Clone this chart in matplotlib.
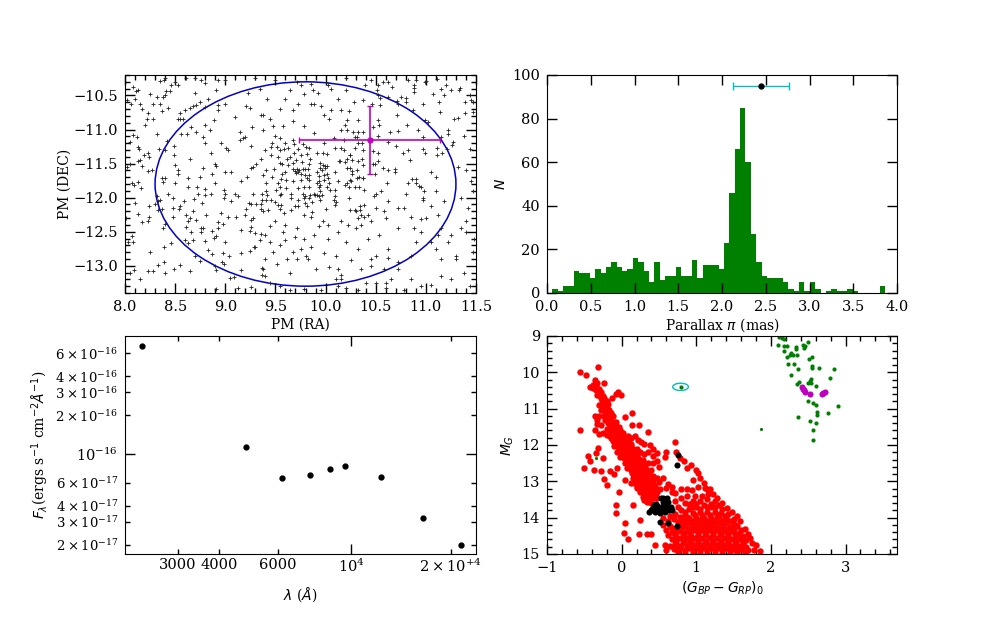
import matplotlib
matplotlib.use('Agg')
import matplotlib.pyplot as plt
from matplotlib.patches import Ellipse
from matplotlib.ticker import MultipleLocator

plt.rcParams['font.family'] = 'DejaVu Serif'
plt.rcParams['font.size'] = 10
plt.rcParams['mathtext.fontset'] = 'dejavusans'

pm_topleft = [
(8.40,-10.24),(8.35,-10.29),(8.39,-10.27),(8.50,-10.30),(8.61,-10.25),(8.70,-10.25),(8.76,-10.27),(8.80,-10.32),(8.93,-10.27),(8.08,-10.37),
(8.13,-10.42),(8.11,-10.44),(8.25,-10.48),(8.32,-10.53),(8.41,-10.44),(8.45,-10.44),(8.46,-10.35),(8.53,-10.35),(8.40,-10.49),(8.38,-10.53),
(8.70,-10.47),(8.83,-10.55),(8.91,-10.42),(9.0,-10.27),(9.23,-10.47),(8.02,-10.57),(8.10,-10.55),(8.06,-10.63),(8.15,-10.62),(8.17,-10.70),
(8.28,-10.62),(8.35,-10.62),(8.43,-10.69),(8.37,-10.73),(8.23,-10.76),(8.22,-10.84),(8.28,-10.85),(8.20,-10.93),(8.65,-10.69),(8.68,-10.65),
(8.71,-10.64),(8.75,-10.59),(8.60,-10.71),(8.55,-10.76),(8.55,-10.84),(8.58,-10.84),(8.53,-10.84),(8.80,-10.67),(8.93,-10.64),(8.93,-10.71),
(9.0,-10.63),(9.10,-10.81),(9.21,-10.65),(9.25,-10.69),(8.89,-10.86),(8.80,-10.94),(8.66,-10.96),(8.56,-11.06),(8.62,-11.06),(8.71,-11.03),
(8.85,-11.01),(8.32,-11.06),(8.08,-11.08),(8.12,-11.11),(8.78,-11.11),(8.80,-11.20),(8.05,-11.18),(8.13,-11.25),(8.14,-11.29),(8.42,-11.17),
(8.34,-11.28),(8.40,-11.30),(8.49,-11.24),(9.15,-11.03),(9.18,-11.13),(9.20,-11.11),(9.15,-11.16),(9.27,-10.96),(9.36,-10.79),(9.26,-11.24),
(8.96,-11.20),(9.01,-11.27),(9.03,-11.30),(8.23,-11.34),(8.19,-11.37),(8.24,-11.40),(8.15,-11.45),(8.13,-11.46),(8.17,-11.53),(8.05,-11.50),
(8.02,-11.55),(8.49,-11.37),(8.86,-11.34),(8.65,-11.43),(8.50,-11.52),(8.53,-11.60),(8.53,-11.65),(8.23,-11.61),(8.27,-11.60),(8.37,-11.71),
(8.40,-11.71),(8.38,-11.77),(8.90,-11.51),(8.91,-11.53),(8.78,-11.57),(8.87,-11.66),(8.75,-11.69),(8.63,-11.71),(9.06,-11.63),(9.0,-11.63),
(9.31,-11.51),(9.28,-11.55),(9.26,-11.57),(9.22,-11.69),(9.16,-11.76),(9.38,-11.67),(9.36,-11.43),(8.07,-11.78),(8.13,-11.77),(8.50,-11.79),(8.90,-11.79),
]
pm_topmid = [
(9.30,-10.24),(9.50,-10.27),(9.73,-10.62),(9.85,-10.63),(9.88,-10.62),(9.92,-10.47),(9.87,-10.42),(9.65,-10.42),(9.75,-10.34),(9.85,-10.33),
(10.02,-10.35),(10.05,-10.4),(9.95,-10.65),(10.05,-10.72),(10.03,-10.85),(10.15,-10.72),(9.42,-10.55),(9.35,-10.4),(9.6,-10.55),(9.68,-10.72),
(9.78,-10.48),(9.98,-10.78),(10.12,-10.55),(10.2,-10.42),(9.45,-10.85),(9.48,-10.95),(9.55,-10.7),(9.38,-10.78),(9.78,-10.95),(9.68,-10.88),
(9.58,-10.95),(9.88,-11.05),(9.98,-11.2),(10.08,-11.12),(10.18,-11.15),(10.15,-11.0),(9.5,-11.1),(9.55,-11.12),(9.47,-11.2),(9.52,-11.25),
(9.6,-11.2),(9.68,-11.15),(9.38,-11.0),(9.4,-11.3),(10.0,-10.3),(9.72,-10.3),
]
pm_topright = [
(10.39,-10.35),(10.525,-10.35),(10.51,-10.42),(10.575,-10.31),(10.62,-10.30),(10.665,-10.37),(10.525,-10.49),(10.54,-10.54),(10.62,-10.53),(10.75,-10.53),
(10.80,-10.54),(10.80,-10.59),(10.71,-10.58),(10.375,-10.57),(10.28,-10.60),(10.46,-10.62),(10.54,-10.64),(10.72,-10.63),(10.97,-10.62),(10.23,-10.73),
(10.71,-10.78),(10.99,-10.86),(11.02,-10.89),(10.87,-10.71),(11.14,-10.74),(10.21,-10.86),(10.32,-10.86),(10.525,-10.86),(10.53,-10.94),(10.475,-10.96),
(10.81,-10.94),(10.19,-10.94),(10.72,-11.02),(10.92,-11.01),(10.27,-11.04),(10.32,-11.04),(10.375,-11.04),(10.21,-11.01),(10.29,-11.11),(10.31,-11.11),
(10.525,-11.10),(10.64,-11.04),(10.97,-11.11),(11.22,-11.01),(11.22,-11.06),(11.15,-11.11),(11.38,-11.09),(11.27,-11.18),(11.26,-11.23),(10.625,-11.18),
(10.365,-11.20),(10.32,-11.20),(10.70,-11.24),(10.97,-11.29),(11.115,-11.27),(11.215,-11.29),(10.775,-11.35),(10.82,-11.30),(10.99,-11.35),(11.115,-11.38),
(11.165,-11.34),(10.24,-11.38),(10.475,-11.32),(10.525,-11.35),(10.84,-11.45),(11.44,-11.29),(10.26,-11.45),(10.325,-11.46),(10.21,-11.43),(10.525,-11.46),
(10.49,-11.50),(10.475,-11.51),(10.375,-11.52),(10.21,-11.56),(10.24,-11.57),(10.575,-11.57),(10.625,-11.60),(10.69,-11.58),(10.69,-11.63),(11.05,-11.62),
(10.31,-11.60),(10.26,-11.66),(10.31,-11.71),(10.375,-11.71),(10.49,-11.66),(10.25,-11.76),(10.21,-11.79),(10.61,-11.79),(10.86,-11.73),(10.905,-11.73),
(10.905,-11.78),(10.82,-11.79),(10.905,-10.27),(10.99,-10.30),(10.885,-10.34),(10.885,-10.39),(10.885,-10.445),(11.0,-10.29),(11.115,-10.26),(11.07,-10.48),
(11.18,-10.50),(11.15,-10.41),(11.205,-10.35),(11.25,-10.42),(11.34,-10.39),(11.33,-10.42),(11.44,-10.49),(11.455,-10.57),(11.39,-10.60),(11.13,-10.60),
(11.47,-10.59),(11.39,-10.76),(11.47,-10.75),(11.32,-10.83),(11.28,-10.84),(10.82,-10.27),(10.2,-10.25),(10.45,-10.27),(11.1,-11.7),(11.45,-11.75),(11.4,-11.6),(11.32,-11.55),
]
pm_botleft = [
(8.09,-11.82),(8.16,-11.86),(8.63,-11.85),(8.72,-11.84),(8.80,-11.87),(8.43,-11.94),(8.73,-11.94),(8.80,-11.96),(8.86,-11.94),(8.99,-11.89),
(9.0,-11.94),(9.10,-11.94),(8.99,-12.0),(8.48,-12.01),(8.69,-12.02),(8.32,-11.98),(8.35,-12.03),(8.33,-12.05),(8.59,-12.05),(9.06,-12.05),
(9.13,-11.97),(9.28,-11.95),(9.37,-11.94),(9.37,-12.03),(9.235,-12.08),(9.26,-12.10),(9.31,-12.10),(9.355,-12.10),(8.10,-12.08),(8.24,-12.13),
(8.30,-12.10),(8.48,-12.15),(8.54,-12.16),(8.55,-12.12),(8.77,-12.08),(8.68,-12.20),(8.33,-12.18),(8.365,-12.17),(8.13,-12.24),(8.24,-12.28),
(8.61,-12.25),(8.48,-12.29),(8.65,-12.30),(8.71,-12.33),(8.63,-12.34),(8.81,-12.25),(8.96,-12.23),(9.11,-12.29),(9.195,-12.26),(9.21,-12.16),
(9.36,-12.16),(9.26,-12.33),(9.28,-12.30),(9.38,-12.20),(8.01,-12.30),(8.17,-12.36),(8.23,-12.34),(8.40,-12.38),(8.38,-12.44),(8.61,-12.43),
(8.93,-12.36),(8.98,-12.38),(9.03,-12.28),(8.76,-12.45),(8.78,-12.44),(8.76,-12.50),(8.66,-12.50),(8.87,-12.49),(8.93,-12.45),(9.16,-12.47),
(9.26,-12.43),(9.245,-12.49),(9.30,-12.52),(9.36,-12.54),(8.60,-12.62),(8.68,-12.62),(8.63,-12.66),(8.80,-12.64),(8.89,-12.59),(8.91,-12.57),
(9.0,-12.65),(8.46,-12.67),(8.03,-12.65),(8.07,-12.57),(8.08,-12.65),(8.39,-12.73),(8.25,-12.80),(9.29,-12.72),(9.245,-12.79),(9.16,-12.82),
(8.83,-12.77),(8.87,-12.83),(8.98,-12.82),(9.04,-12.85),(8.70,-12.85),(8.39,-12.95),(8.33,-12.99),(8.55,-12.99),(8.75,-12.93),(8.90,-13.0),
(8.97,-12.95),(8.99,-12.98),(9.37,-13.03),(8.09,-13.06),(8.05,-13.10),(8.23,-13.08),(8.28,-13.08),(8.40,-13.11),(8.49,-13.05),(8.65,-13.08),
(8.91,-13.06),(9.155,-13.06),(9.37,-13.13),(8.15,-13.19),(9.05,-13.18),(9.09,-13.16),(9.13,-13.33),(9.255,-13.31),(8.91,-13.34),
]
pm_botmid = [
(9.97,-12.35),(9.93,-12.42),(9.88,-12.55),(9.78,-12.6),(9.75,-12.75),(9.72,-12.9),(9.8,-12.85),(9.82,-12.9),(9.68,-12.8),(9.62,-12.9),
(9.55,-12.7),(9.45,-12.65),(9.4,-12.55),(10.02,-12.6),(10.12,-12.5),(10.2,-12.65),(9.5,-12.35),(9.6,-12.4),(9.72,-12.45),(9.7,-12.58),
(9.6,-12.62),(9.85,-12.72),(9.98,-12.82),(10.1,-12.85),(9.52,-12.98),(9.4,-12.9),(9.38,-13.05),(9.4,-13.15),(9.65,-13.1),(9.9,-13.05),
(10.03,-13.02),(10.12,-13.05),(10.15,-13.13),(9.45,-13.25),(9.55,-13.3),(10.1,-13.2),(10.12,-13.3),(10.15,-13.2),(9.65,-13.36),(9.78,-13.34),
(9.95,-13.36),(10.02,-12.4),(10.15,-12.35),(9.78,-12.25),(9.85,-12.28),(9.45,-12.42),(9.58,-12.5),(9.35,-12.62),(9.3,-12.72),(9.48,-12.8),
]
pm_botright = [
(10.22,-12.4),(10.3,-12.45),(10.32,-12.3),(10.3,-12.2),(10.35,-12.25),(10.38,-12.28),(10.5,-12.15),(10.58,-12.2),(10.6,-12.3),(10.45,-12.35),
(10.35,-12.4),(10.5,-11.95),(10.55,-11.9),(10.48,-11.98),(10.62,-12.05),(10.42,-12.25),(10.72,-12.15),(10.78,-12.15),(11.0,-12.3),(10.95,-12.32),
(10.72,-12.45),(10.95,-12.5),(11.12,-12.55),(11.05,-12.65),(10.9,-12.65),(10.85,-12.85),(10.72,-12.95),(10.72,-13.05),(10.5,-12.85),(10.45,-12.9),
(10.45,-13.0),(10.32,-12.75),(10.62,-12.75),(10.53,-12.55),(10.42,-12.6),(10.93,-11.83),(10.95,-11.85),(10.98,-11.9),(10.97,-12.0),(10.97,-12.03),
(10.8,-11.95),(11.1,-11.9),(10.88,-12.45),(10.85,-12.28),(11.05,-12.12),(11.12,-12.25),(11.18,-12.05),(10.25,-12.92),(10.35,-13.05),(10.58,-13.05),
(10.62,-12.88),(10.4,-13.25),(10.2,-13.32),(10.32,-13.36),(10.5,-13.25),(10.6,-13.25),(10.65,-13.2),(10.6,-13.32),(10.95,-13.3),(10.85,-13.2),
(11.15,-13.15),(11.25,-13.2),(11.3,-12.85),(11.3,-12.9),(11.15,-12.9),(11.1,-12.75),(11.22,-12.65),(11.4,-12.5),(11.48,-12.6),(11.47,-12.8),
(11.25,-12.55),(11.35,-12.45),(11.15,-12.45),(11.42,-12.15),(11.4,-12.35),(11.35,-12.0),(11.47,-11.9),(10.78,-13.35),(11.05,-13.28),(11.38,-13.1),(11.44,-13.3),
]

# dense clump around the cluster centre
pm_core = [
(9.46,-11.25),(9.55,-11.30),(9.59,-11.28),(9.63,-11.27),(9.69,-11.22),(9.73,-11.28),(9.77,-11.22),(9.80,-11.26),(9.83,-11.27),(9.46,-11.37),
(9.53,-11.41),(9.62,-11.43),(9.65,-11.41),(9.69,-11.34),(9.75,-11.37),(9.81,-11.36),(9.84,-11.43),(9.91,-11.35),(9.97,-11.35),(10.01,-11.36),
(10.09,-11.27),(10.15,-11.27),(10.18,-11.30),(9.41,-11.59),(9.49,-11.58),(9.55,-11.49),(9.57,-11.51),(9.63,-11.52),(9.68,-11.49),(9.71,-11.45),
(9.76,-11.48),(9.83,-11.51),(9.94,-11.49),(9.97,-11.52),(9.99,-11.54),(10.01,-11.53),(10.13,-11.46),(10.14,-11.46),(10.19,-11.47),(9.68,-11.58),
(9.70,-11.61),(9.72,-11.58),(9.74,-11.59),(9.77,-11.58),(9.79,-11.58),(9.82,-11.58),(9.73,-11.63),(9.71,-11.64),(9.75,-11.66),(9.79,-11.67),
(9.81,-11.71),(9.83,-11.67),(9.57,-11.66),(9.60,-11.63),(9.94,-11.57),(9.96,-11.59),(9.99,-11.57),(9.91,-11.63),(9.93,-11.68),(9.98,-11.67),
(10.01,-11.66),(10.02,-11.71),(10.09,-11.63),(9.47,-11.69),(9.56,-11.72),(9.53,-11.79),(9.61,-11.74),(9.75,-11.74),(9.83,-11.74),(9.68,-11.76),
(9.91,-11.79),(9.93,-11.75),(9.98,-11.74),(10.03,-11.79),(10.12,-11.76),(10.19,-11.81),(9.41,-11.79),(9.55,-11.84),(9.51,-11.89),(9.61,-11.86),
(9.73,-11.86),(9.78,-11.85),(9.83,-11.84),(9.93,-11.84),(9.94,-11.81),(10.01,-11.84),(10.04,-11.89),(10.09,-11.89),(9.41,-11.91),(9.42,-11.96),
(9.55,-11.96),(9.56,-11.94),(9.66,-11.94),(9.77,-11.94),(9.79,-11.98),(9.84,-11.96),(9.88,-11.94),(9.91,-11.96),(9.94,-11.91),(9.96,-11.96),
(9.93,-11.98),(9.89,-11.96),(10.09,-11.98),(9.41,-12.03),(9.46,-12.03),(9.50,-12.06),(9.66,-12.01),(9.73,-12.03),(9.78,-12.01),(9.83,-12.01),
(9.86,-12.06),(9.94,-12.03),(10.08,-12.03),(10.10,-12.06),(9.53,-12.11),(9.56,-12.11),(9.79,-12.08),(9.81,-12.13),(10.09,-12.11),(9.43,-12.18),
(9.55,-12.16),(9.66,-12.18),(9.70,-12.13),(9.73,-12.13),(10.0,-12.17),(9.86,-12.21),(9.59,-12.23),(10.24,-11.37),(10.29,-11.27),(10.37,-11.30),
(10.36,-11.43),(10.26,-11.61),(10.33,-11.69),(10.37,-11.71),(10.24,-11.74),(10.23,-11.84),(10.29,-11.84),(10.33,-11.84),(10.38,-11.89),(10.23,-12.01),
(10.34,-12.13),(10.38,-12.11),(10.24,-12.18),(10.29,-12.18),(10.34,-12.18),
]

# parallax histogram counts, bin width from the picture
plx_counts = [0,2,1,3,3,10,9,9,7,11,9,12,14,12,10,11,16,14,10,5,14,6,8,8,12,8,8,15,7,13,13,13,11,23,46,66,85,60,27,14,8,7,7,7,5,2,1,5,1,5,2,0,1,2,1,1,2,1,0,0,0,0,3]
plx_bin = 0.0613
plx_edges = [i * plx_bin for i in range(len(plx_counts))]

# spectral energy distribution
sed_wave = [2336, 4808, 6173, 7499, 8620, 9570, 12290, 16465, 21430]
sed_flux = [6.79e-16, 1.132e-16, 6.53e-17, 6.85e-17, 7.67e-17, 8.08e-17, 6.65e-17, 3.21e-17, 1.99e-17]

# colour magnitude diagram
cmd_red = [
(-.56,9.98),(-.48,10.07),(-.32,9.84),(-.56,11.59),(-.23,10.29),(-.05,10.55),(-.01,10.62),(-.08,10.6),(-.13,10.7),(-.2,10.78),
(.14,11.12),(.05,11.24),(.23,11.44),(.14,11.44),(.36,11.64),(.71,11.93),(.73,12.18),(-.45,12.3),(-.43,12.45),(-.34,12.21),
(-.32,12.08),(-.25,12.35),(-.5,12.62),(-.37,12.68),(-.28,12.72),(-.23,12.93),(-.19,13.09),(-.15,12.72),(-.06,12.64),(-.1,12.8),
(-.08,13.64),(-.07,13.88),(.05,14.16),(.03,14.41),(.09,14.6),(.25,14.06),(-.03,13.29),(.04,12.95),(.15,13.64),(.23,14.44),
(.34,14.44),(.39,14.44),(.45,14.74),(-.36,10.2),(-.42,10.4),(-.38,10.35),(-.35,10.5),(-.33,10.3),(-.3,10.45),(-.27,10.55),
(-.33,10.62),(-.28,10.7),(-.25,10.65),(-.3,10.9),(-.24,10.9),(-.2,10.95),(-.27,11.05),(-.22,11.1),(-.17,11.05),(-.36,11.2),
(-.33,11.3),(-.3,11.2),(-.16,11.2),(-.12,11.2),(-.19,11.3),(-.36,11.6),(-.3,11.7),(-.25,11.68),(-.33,11.42),(-.28,11.45),
(-.14,11.35),(-.1,11.38),(-.07,11.38),(-.16,11.45),(-.12,11.5),(-.08,11.47),(-.04,11.5),(-.15,11.62),(-.1,11.6),(-.06,11.62),
(-.02,11.6),(.02,11.68),(-.2,11.55),(-.2,11.72),(-.16,11.75),(-.12,11.75),(-.08,11.75),(-.04,11.75),(0,11.75),(.04,11.8),
(.08,11.75),(.12,11.8),(.18,11.75),(.22,11.85),(.26,11.92),(.3,11.98),(.38,12.0),(.42,12.1),(-.12,11.9),(-.08,11.9),(-.04,11.92),
(0,11.9),(.04,11.93),(.08,11.93),(.12,11.96),(-.1,12.02),(-.05,12.05),(0,12.05),(.05,12.08),(.1,12.08),(.15,12.1),(.2,12.1),
(-.06,12.18),(-.01,12.2),(.04,12.2),(.09,12.22),(.14,12.2),(.19,12.25),(.25,12.2),(.3,12.25),(.35,12.2),(.42,12.3),(.48,12.22),
(.58,12.32),(.6,12.2),(-.02,12.32),(.03,12.35),(.08,12.35),(.13,12.35),(.18,12.38),(.23,12.38),(.28,12.42),(.05,12.5),(.1,12.48),
(.15,12.5),(.2,12.52),(.25,12.52),(.3,12.55),(.36,12.5),(.42,12.5),(.48,12.45),(.07,12.62),(.12,12.62),(.17,12.65),(.22,12.65),
(.27,12.66),(.32,12.66),(.4,12.7),(.5,12.6),(.14,12.78),(.19,12.78),(.24,12.78),(.29,12.8),(.34,12.82),(.42,12.85),(.48,12.9),
(.56,12.9),(.15,12.9),(.2,12.92),(.25,12.92),(.3,12.92),(.35,12.95),(.4,12.95),(.12,13.05),(.17,13.05),(.22,13.05),(.27,13.05),
(.32,13.05),(.37,13.08),(.42,13.08),(.5,13.02),(.62,13.08),(.68,13.15),(.2,13.18),(.25,13.18),(.3,13.18),(.35,13.2),(.4,13.2),
(.45,13.22),(.52,13.22),(.6,13.18),(.25,13.3),(.3,13.3),(.35,13.32),(.4,13.32),(.45,13.35),(.28,13.42),(.33,13.45),(.38,13.45),
(.43,13.47),(.48,13.47),(.34,13.58),(.39,13.6),(.3,13.52),(.68,13.28),(.72,13.32),(.8,13.2),(.88,13.2),(.94,13.25),(1.03,13.15),
(1.12,13.18),(1.18,13.22),(.88,12.62),(.93,12.55),(.99,12.7),(1.03,12.78),(1.05,12.9),(.95,12.95),(1.1,13.05),(.83,12.45),
(.78,12.35),(1.14,13.2),(1.28,13.45),(1.22,13.35),(1.35,13.6),(1.41,13.73),(1.48,13.85),(1.55,13.95),(1.59,14.1),(1.65,14.3),
(1.7,14.45),(1.72,14.56),(1.8,14.75),(1.78,14.88),(1.86,14.93),(1.75,14.7),(.72,13.55),(.8,13.45),(.88,13.4),(.98,13.4),(1.08,13.4),
(1.16,13.35),(.75,13.7),(.85,13.6),(.95,13.55),(1.05,13.55),(1.15,13.5),(1.25,13.55),(1.3,13.65),(.8,13.8),(.9,13.75),(1.0,13.7),
(1.1,13.65),(1.2,13.72),(1.35,13.75),(.72,13.9),(.85,13.92),(.95,13.88),(1.05,13.85),(1.15,13.85),(1.25,13.85),(1.33,13.88),(1.42,13.9),
(.7,14.05),(.8,14.05),(.9,14.02),(1.0,14.0),(1.1,14.0),(1.2,14.0),(1.3,14.0),(1.4,14.02),(1.5,14.05),(.55,14.2),(.65,14.22),(.8,14.18),
(.9,14.15),(1.0,14.15),(1.1,14.12),(1.2,14.15),(1.3,14.12),(1.4,14.15),(1.5,14.18),(1.55,14.22),(.6,14.35),(.7,14.32),(.8,14.3),(.9,14.3),
(1.0,14.28),(1.1,14.28),(1.2,14.28),(1.3,14.28),(1.4,14.3),(1.5,14.32),(1.6,14.35),(.62,14.48),(.72,14.45),(.82,14.43),(.92,14.42),
(1.02,14.42),(1.12,14.42),(1.22,14.42),(1.32,14.42),(1.42,14.45),(1.52,14.45),(1.62,14.5),(.68,14.6),(.78,14.57),(.88,14.56),(.98,14.56),
(1.08,14.56),(1.18,14.56),(1.28,14.56),(1.38,14.56),(1.48,14.58),(1.58,14.6),(1.66,14.62),(.72,14.72),(.82,14.7),(.92,14.7),(1.02,14.7),
(1.12,14.7),(1.22,14.7),(1.32,14.7),(1.42,14.7),(1.52,14.72),(1.62,14.72),(.7,14.85),(.8,14.83),(.9,14.83),(1.0,14.83),(1.1,14.83),
(1.2,14.83),(1.3,14.83),(1.4,14.83),(1.5,14.85),(1.6,14.85),(1.7,14.9),(.75,14.97),(.85,14.97),(.95,14.96),(1.05,14.96),(1.15,14.96),
(1.25,14.96),(1.35,14.96),(1.45,14.96),(1.55,14.97),(1.65,14.97),(.6,14.9),(.58,14.75),
]
# second pass over the filled parts of the red sequence
cmd_red_fill = [
(.55,14.0),(.62,14.08),(.75,14.12),(.85,14.1),(.95,14.08),(1.05,14.07),(1.15,14.08),(1.25,14.07),(1.35,14.08),(1.45,14.1),(.67,14.28),
(.75,14.25),(.85,14.23),(.95,14.22),(1.05,14.2),(1.15,14.22),(1.25,14.2),(1.35,14.22),(1.45,14.25),(.67,14.4),(.77,14.37),(.87,14.36),
(.97,14.35),(1.07,14.35),(1.17,14.35),(1.27,14.35),(1.37,14.36),(1.47,14.38),(1.57,14.42),(.73,14.52),(.83,14.5),(.93,14.5),(1.03,14.49),
(1.13,14.49),(1.23,14.49),(1.33,14.49),(1.43,14.5),(1.53,14.52),(1.63,14.56),(.73,14.66),(.83,14.63),(.93,14.63),(1.03,14.63),(1.13,14.63),
(1.23,14.63),(1.33,14.63),(1.43,14.64),(1.53,14.65),(1.63,14.67),(.77,14.78),(.87,14.76),(.97,14.76),(1.07,14.76),(1.17,14.76),(1.27,14.76),
(1.37,14.76),(1.47,14.78),(1.57,14.78),(1.67,14.8),(.65,14.78),(.75,14.9),(.85,14.9),(.95,14.9),(1.05,14.9),(1.15,14.9),(1.25,14.9),
(1.35,14.9),(1.45,14.9),(1.55,14.92),(1.65,14.92),(.85,13.85),(.78,13.98),(.88,13.97),(.98,13.93),(1.08,13.92),(1.18,13.92),(1.28,13.93),
(1.38,13.95),(.65,13.95),(.95,13.72),(1.05,13.75),(1.15,13.7),(1.25,13.7),(.9,13.62),(1.0,13.62),(1.2,13.62),
(-.38,10.42),(-.34,10.4),(-.3,10.55),(-.26,10.78),(-.23,10.72),(-.18,10.88),(-.24,11.0),(-.19,11.15),(-.14,11.12),(-.24,11.2),(-.22,11.32),
(-.18,11.4),(-.14,11.55),(-.1,11.68),(-.05,11.68),(0,11.68),(-.14,11.82),(-.1,11.82),(-.06,11.83),(-.02,11.83),(.02,11.85),(.06,11.86),
(-.07,11.97),(-.03,11.98),(.01,11.98),(.05,12.0),(.09,12.0),(.13,12.02),(-.03,12.12),(.02,12.13),(.07,12.15),(.12,12.15),(.17,12.17),
(.01,12.27),(.06,12.28),(.11,12.28),(.16,12.3),(.21,12.3),(.06,12.42),(.11,12.42),(.16,12.43),(.21,12.45),(.26,12.46),(.1,12.56),(.15,12.56),
(.2,12.58),(.25,12.6),(.3,12.6),(.12,12.7),(.17,12.72),(.22,12.72),(.27,12.73),(.32,12.74),(.37,12.75),(.17,12.85),(.22,12.85),(.27,12.86),
(.32,12.87),(.37,12.88),(.17,12.98),(.22,12.98),(.27,12.98),(.32,12.99),(.37,13.0),(.42,13.0),(.2,13.12),(.25,13.12),(.3,13.12),(.35,13.13),
(.4,13.14),(.45,13.14),(.28,13.24),(.33,13.25),(.38,13.26),(.43,13.27),(.48,13.28),(.31,13.37),(.36,13.38),(.41,13.39),(.46,13.4),
]
cmd_green = [
(2.11,9.03),(2.15,9.06),(2.17,9.09),(2.1,9.25),(2.17,9.27),(2.21,9.27),(2.18,9.4),(2.33,9.3),(2.33,9.37),(2.43,9.25),(2.46,9.27),
(2.45,9.32),(2.5,9.17),(2.27,9.47),(2.29,9.53),(2.25,9.53),(2.22,9.59),(2.35,9.52),(2.51,9.63),(2.55,9.58),(2.23,9.77),(2.31,9.76),
(2.36,9.9),(2.55,9.82),(2.55,9.87),(2.64,9.88),(2.84,9.91),(2.79,10.15),(2.27,10.08),(2.54,10.18),(2.52,10.24),(2.5,10.3),(2.54,10.3),
(2.38,10.27),(2.35,10.33),(2.61,10.37),(2.5,10.78),(2.57,10.85),(2.6,10.9),(2.9,10.93),(2.62,11.1),(2.62,11.18),(2.77,11.11),(2.36,11.24),
(2.53,11.35),(2.61,11.39),(2.56,11.6),(2.56,11.87),(.79,10.4),
]
cmd_green_small = [(1.87,11.56), (-.35,12.36)]
cmd_black = [
(.75,12.27),(.74,12.54),(.52,14.11),(.62,14.15),(.74,14.22),(.37,13.85),(.39,13.8),(.41,13.75),(.43,13.7),(.44,13.65),(.46,13.62),(.48,13.68),
(.5,13.72),(.52,13.78),(.5,13.85),(.45,13.85),(.47,13.8),(.53,13.82),(.56,13.8),(.58,13.85),(.6,13.72),(.63,13.78),(.66,13.72),(.67,13.8),
(.53,13.46),(.55,13.45),(.58,13.5),(.61,13.45),(.56,13.58),(.6,13.62),(.62,13.56),(.55,13.68),(.58,13.7),(.52,13.88),(.6,13.8),
]
cmd_magenta = [(2.42,10.4),(2.43,10.46),(2.44,10.5),(2.46,10.55),(2.53,10.59),(2.68,10.6),(2.7,10.56),(2.73,10.53)]

# tick labels for the log panel
sed_xticks = [3000, 4000, 6000, 20000]
sed_xlabels = ['3000', '4000', '6000', r'$\mathdefault{2\times10^{+4}}$']
sed_yticks = [2e-17, 3e-17, 4e-17, 6e-17, 2e-16, 3e-16, 4e-16, 6e-16]
sed_ylabels = [r'$\mathdefault{2\times10^{-17}}$', r'$\mathdefault{3\times10^{-17}}$', r'$\mathdefault{4\times10^{-17}}$', r'$\mathdefault{6\times10^{-17}}$',
               r'$\mathdefault{2\times10^{-16}}$', r'$\mathdefault{3\times10^{-16}}$', r'$\mathdefault{4\times10^{-16}}$', r'$\mathdefault{6\times10^{-16}}$']

W, H = 997.0, 623.0
fig = plt.figure(figsize=(W / 100, H / 100), dpi=100)


def panel(l, t, r, b):
    ax = fig.add_axes([l / W, 1 - b / H, (r - l) / W, (b - t) / H])
    ax.tick_params(which='both', direction='in', top=True, right=True, width=1)
    ax.tick_params(which='major', length=7, pad=5, labelsize=10.5)
    ax.tick_params(which='minor', length=3.5)
    return ax


# proper motion panel
ax1 = panel(125, 75, 476, 293)
for pts in (pm_topleft, pm_topmid, pm_topright, pm_botleft, pm_botmid, pm_botright, pm_core):
    ax1.plot([p[0] for p in pts], [p[1] for p in pts], ls='none', marker='+', ms=2.4, mew=0.6, color='#222222')
ax1.add_patch(Ellipse((9.8, -11.8), 3.0, 3.0, fill=False, ec='#0000cc', lw=1.1))
ax1.errorbar([10.44], [-11.16], xerr=[0.7], yerr=[0.5], color='m', marker='o', ms=3.5, capsize=2.5, lw=1.2)
ax1.set_xlim(8, 11.5)
ax1.set_ylim(-13.4, -10.2)
ax1.xaxis.set_minor_locator(MultipleLocator(0.1))
ax1.yaxis.set_minor_locator(MultipleLocator(0.1))
ax1.set_yticks([-13, -12.5, -12, -11.5, -11, -10.5])
ax1.set_xlabel('PM (RA)', labelpad=3)
ax1.set_ylabel('PM (DEC)', labelpad=1)

# parallax histogram
ax2 = panel(547, 75, 897, 293)
ax2.bar(plx_edges, plx_counts, width=plx_bin, align='edge', color='g', lw=0)
ax2.errorbar([2.44], [95], xerr=[0.32], color='c', ecolor='c', capsize=3, lw=1, marker='o', ms=3.5, mfc='k', mec='k')
ax2.set_xlim(0, 4)
ax2.set_ylim(0, 100)
ax2.set_xlabel(r'Parallax $\pi$ (mas)', labelpad=2)
ax2.set_ylabel(r'$N$', labelpad=3)

# spectral energy distribution panel
ax3 = panel(125, 336, 476, 554)
ax3.set_xscale('log')
ax3.set_yscale('log')
ax3.plot(sed_wave, sed_flux, ls='none', marker='o', ms=3.5, color='k')
ax3.set_xlim(2075, 23860)
ax3.set_ylim(1.7e-17, 8.15e-16)
ax3.set_xticks(sed_xticks, labels=sed_xlabels, minor=True)
ax3.set_yticks(sed_yticks, labels=sed_ylabels, minor=True)
ax3.tick_params(which='minor', length=3.5, labelsize=9.5, pad=5)
ax3.tick_params(axis='x', which='both', labelsize=10.5, pad=3)
ax3.set_xlabel(r'$\lambda$ ($\AA$)', labelpad=7)
ax3.set_ylabel(r'$F_{\lambda}$(ergs s$^{-1}$ cm$^{-2}\AA^{-1}$)', labelpad=3)

# colour magnitude panel
ax4 = panel(547, 336, 897, 554)
for pts in (cmd_red, cmd_red_fill):
    ax4.plot([p[0] for p in pts], [p[1] for p in pts], ls='none', marker='o', ms=4.6, color='r', mew=0)
ax4.plot([p[0] for p in cmd_green], [p[1] for p in cmd_green], ls='none', marker='o', ms=3, color='g', mew=0)
ax4.plot([p[0] for p in cmd_green_small], [p[1] for p in cmd_green_small], ls='none', marker='o', ms=2.3, color='g', mew=0)
ax4.plot([p[0] for p in cmd_black], [p[1] for p in cmd_black], ls='none', marker='o', ms=4.4, color='k', mew=0)
ax4.plot([p[0] for p in cmd_magenta], [p[1] for p in cmd_magenta], ls='none', marker='o', ms=4.4, color='m', mew=0)
ax4.add_patch(Ellipse((0.79, 10.4), 0.21, 0.2, fill=False, ec='c', lw=1))
ax4.set_xlim(-1, 3.69)
ax4.set_ylim(15, 9)
ax4.xaxis.set_minor_locator(MultipleLocator(0.2))
ax4.yaxis.set_minor_locator(MultipleLocator(0.2))
ax4.set_xlabel(r'$(G_{BP}-G_{RP})_{0}$', labelpad=3)
ax4.set_ylabel(r'$M_{G}$', labelpad=4)

fig.savefig('out.png', dpi=100)
